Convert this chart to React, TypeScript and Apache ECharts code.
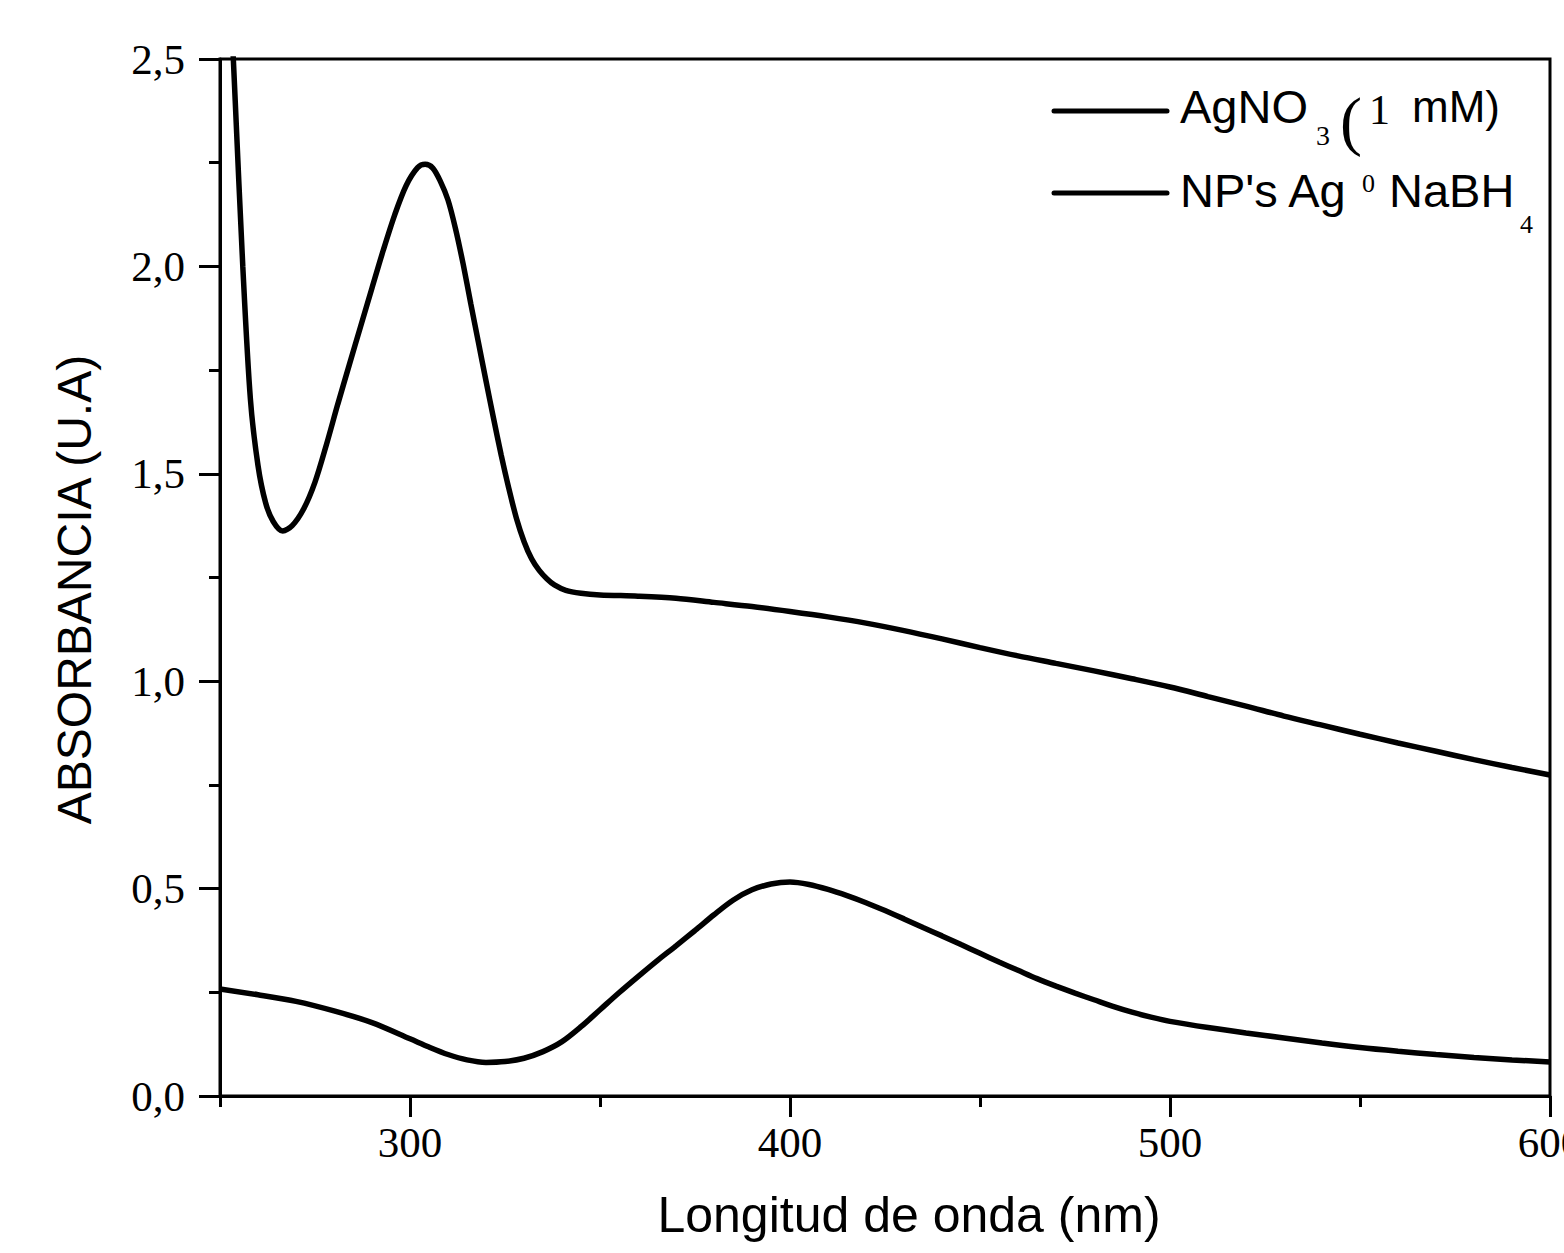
import React, { useEffect, useRef } from "react";
import * as echarts from "echarts";

// Wavelength (nm) and absorbance (U.A)
const wavelengthAgNO3 = [
  250, 252, 254, 256, 258, 260, 262, 264, 266.5, 269, 272, 275, 278, 281, 284,
  287, 290, 293, 296, 299, 302, 304, 306, 308, 310, 312, 314, 316, 318, 320,
  322, 324, 326, 328, 330, 332, 334, 336, 338, 341, 345, 350, 360, 370, 380,
  390, 400, 410, 420, 430, 440, 450, 460, 470, 480, 490, 500, 510, 520, 530,
  540, 550, 560, 570, 580, 590, 600,
];
const absorbanceAgNO3 = [
  3.15, 2.8, 2.4, 2.0, 1.68, 1.52, 1.43, 1.385, 1.362, 1.375, 1.415, 1.48,
  1.57, 1.668, 1.762, 1.855, 1.948, 2.04, 2.125, 2.195, 2.238, 2.246, 2.237,
  2.205, 2.16, 2.09, 2.005, 1.91, 1.817, 1.724, 1.633, 1.545, 1.465, 1.393,
  1.337, 1.295, 1.267, 1.247, 1.232, 1.219, 1.212, 1.208, 1.205, 1.2, 1.19,
  1.18, 1.168, 1.155, 1.14, 1.122, 1.102, 1.081, 1.061, 1.043, 1.025, 1.006,
  0.986, 0.963, 0.94, 0.916, 0.894, 0.872, 0.851, 0.831, 0.811, 0.792, 0.774,
];
const wavelengthNP = [
  250, 260, 270, 280, 290, 300, 305, 310, 315, 320, 325, 330, 335, 340, 345,
  350, 355, 360, 365, 370, 375, 380, 385, 390, 395, 400, 405, 410, 415, 420,
  425, 430, 435, 440, 445, 450, 455, 460, 465, 470, 475, 480, 485, 490, 495,
  500, 510, 520, 530, 540, 550, 560, 570, 580, 590, 600,
];
const absorbanceNP = [
  0.258, 0.244, 0.228, 0.205, 0.177, 0.138, 0.118, 0.1, 0.087, 0.081, 0.083,
  0.091, 0.107, 0.131, 0.167, 0.208, 0.249, 0.288, 0.326, 0.362, 0.399, 0.437,
  0.472, 0.497, 0.511, 0.516, 0.51, 0.498, 0.483, 0.466, 0.447, 0.427, 0.406,
  0.386, 0.365, 0.344, 0.323, 0.303, 0.283, 0.265, 0.248, 0.232, 0.216, 0.202,
  0.19, 0.18, 0.165, 0.152, 0.14, 0.128, 0.117, 0.108, 0.1, 0.093, 0.087,
  0.082,
];
const seriesNames = ["AgNO3 (1 mM)", "NP's Ag0 NaBH4"];
const xMajorTicks = [300, 400, 500, 600];
const xMinorTicks = [250, 350, 450, 550];
const xTitle = "Longitud de onda (nm)";
const yTitle = "ABSORBANCIA (U.A)";

const SANS = '"Liberation Sans", Arial, sans-serif';
const SERIF = '"Liberation Serif", "Times New Roman", serif';

function txt(text: string, x: number, y: number, size: number, family: string) {
  return {
    type: "text",
    x,
    y,
    silent: true,
    style: {
      text,
      fontSize: size,
      fontFamily: family,
      fill: "#000",
      align: "left",
      verticalAlign: "middle",
    },
  };
}

export default function App() {
  const ref = useRef<HTMLDivElement>(null);
  useEffect(() => {
    if (!ref.current) return;
    const chart = echarts.init(ref.current, undefined, { renderer: "svg" });
    const pairs = (xs: number[], ys: number[]) => xs.map((x, i) => [x, ys[i]]);
    const baseX = {
      type: "value",
      min: 250,
      max: 600,
      interval: 50,
      position: "bottom",
      splitLine: { show: false },
    };
    chart.setOption({
      animation: false,
      backgroundColor: "#fff",
      grid: {
        left: 220,
        right: 14,
        top: 59,
        bottom: 157,
        containLabel: false,
        outerBoundsMode: "none",
        show: true,
        borderColor: "#000",
        borderWidth: 3,
      },
      xAxis: [
        {
          ...baseX,
          name: xTitle,
          nameLocation: "middle",
          nameGap: 94,
          nameTextStyle: {
            fontSize: 50,
            fontFamily: SANS,
            color: "#000",
            padding: [0, 0, 0, 48],
          },
          axisLine: { show: true, lineStyle: { color: "#000", width: 3 } },
          axisTick: {
            show: true,
            customValues: xMinorTicks,
            length: 11,
            lineStyle: { color: "#000", width: 3 },
          },
          axisLabel: {
            customValues: xMajorTicks,
            margin: 25,
            fontSize: 43,
            fontFamily: SERIF,
            color: "#000",
          },
        },
        {
          ...baseX,
          axisLine: { show: false },
          axisTick: {
            show: true,
            customValues: xMajorTicks,
            length: 21,
            lineStyle: { color: "#000", width: 3 },
          },
          axisLabel: { show: false },
        },
      ],
      yAxis: {
        type: "value",
        min: 0,
        max: 2.5,
        interval: 0.5,
        splitLine: { show: false },
        name: yTitle,
        nameLocation: "middle",
        nameGap: 122,
        nameRotate: 90,
        nameTextStyle: { fontSize: 48, fontFamily: SANS, color: "#000", padding: [0, 24, 0, 0] },
        axisLine: { show: true, lineStyle: { color: "#000", width: 3 } },
        axisTick: { show: true, length: 21, lineStyle: { color: "#000", width: 3 } },
        minorTick: {
          show: true,
          splitNumber: 2,
          length: 11,
          lineStyle: { color: "#000", width: 3 },
        },
        axisLabel: {
          margin: 35,
          fontSize: 43,
          fontFamily: SERIF,
          color: "#000",
          formatter: (v: number) => v.toFixed(1).replace(".", ","),
        },
      },
      series: [
        {
          name: seriesNames[0],
          type: "line",
          data: pairs(wavelengthAgNO3, absorbanceAgNO3),
          showSymbol: false,
          smooth: 0.3,
          clip: true,
          lineStyle: { color: "#000", width: 5.5 },
        },
        {
          name: seriesNames[1],
          type: "line",
          data: pairs(wavelengthNP, absorbanceNP),
          showSymbol: false,
          smooth: 0.3,
          clip: true,
          lineStyle: { color: "#000", width: 5.5 },
        },
      ],
      graphic: [
        {
          type: "line",
          silent: true,
          shape: { x1: 1054, y1: 111, x2: 1167, y2: 111 },
          style: { stroke: "#000", lineWidth: 5, lineCap: "round" },
        },
        {
          type: "line",
          silent: true,
          shape: { x1: 1054, y1: 193, x2: 1167, y2: 193 },
          style: { stroke: "#000", lineWidth: 5, lineCap: "round" },
        },
        txt("AgNO", 1180, 106, 47, SANS),
        txt("3", 1316, 135, 28, SERIF),
        txt("(", 1340, 120, 66, SERIF),
        txt("1", 1369, 110, 42, SERIF),
        txt("mM)", 1412, 106, 44, SANS),
        txt("NP's Ag", 1180, 190, 47, SANS),
        txt("0", 1362, 183, 26, SERIF),
        txt("NaBH", 1389, 190, 47, SANS),
        txt("4", 1520, 224, 26, SERIF),
      ],
    });
    return () => chart.dispose();
  }, []);
  return (
    <div
      ref={ref}
      style={{ position: "fixed", left: 0, top: 0, width: 1564, height: 1253, overflow: "hidden" }}
    />
  );
}
